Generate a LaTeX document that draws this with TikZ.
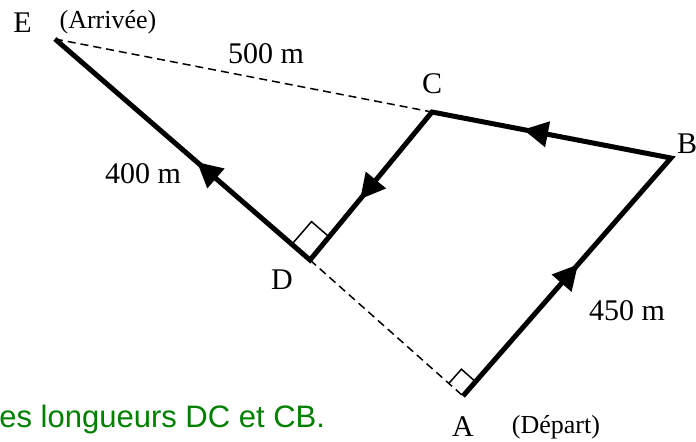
\documentclass[tikz,border=0pt]{standalone}
\usepackage{fontspec}
\setmainfont{Liberation Serif}
\newfontfamily\consignefont{Liberation Sans}
\usetikzlibrary{arrows.meta,decorations.markings,calc}

\definecolor{consigne}{RGB}{0,128,0}
\tikzset{
  walk/.style={line width=2.5pt, line join=miter},
  guide/.style={line width=0.75pt, dash pattern=on 4pt off 2.5pt},
  rightangle/.style={line width=0.75pt},
  midarrow/.style={line width=2.5pt, postaction={decorate, decoration={markings,
      mark=at position #1 with {\arrow{Triangle[length=12.5pt,width=12.5pt]}}}}},
  lbl/.style={font=\fontsize{15}{18}\selectfont, inner sep=0pt, anchor=base},
  small/.style={font=\fontsize{13}{15}\selectfont, inner sep=0pt, anchor=base},
}

\begin{document}
\begin{tikzpicture}[x=0.5pt,y=-0.5pt]
  \useasboundingbox (0,0) rectangle (696,441);

  \coordinate (A) at (463,396);
  \coordinate (B) at (671,158);
  \coordinate (C) at (432,112);
  \coordinate (D) at (310,260);
  \coordinate (E) at (55,39);

  % pointilles
  \draw[guide] (E) -- (C);
  \draw[guide] (D) -- (A);

  % trajet
  \draw[walk] (A) -- (B) -- (C) -- (D) -- (E);
  \path[midarrow=0.553] (A) -- (B);
  \path[midarrow=0.619] (B) -- (C);
  \path[midarrow=0.59] (C) -- (D);
  \path[midarrow=0.443] (D) -- (E);

  % angles droits
  \draw[rightangle] ($(D)!12pt!(E)$) -- ($(D)!12pt!(E)!15pt!-90:(E)$) -- ($(D)!15pt!(C)$);
  \draw[rightangle] ($(A)!9.5pt!(D)$) -- ($(A)!9.5pt!(D)!9.5pt!-90:(D)$) -- ($(A)!9.5pt!(B)$);

  \node[lbl] (lE) at (22.5,32) {E};
  \node[small] (lEnd) at (108,28) {(Arrivée)};
  \node[lbl] (lEC) at (266,63) {500 m};
  \node[lbl] (lC) at (432,93) {C};
  \node[lbl] (lB) at (687,153) {B};
  \node[lbl] (lDE) at (143,183) {400 m};
  \node[lbl] (lD) at (282,289) {D};
  \node[lbl] (lAB) at (627,320) {450 m};
  \node[lbl] (lA) at (463,436) {A};
  \node[small] (lStart) at (556,433) {(Départ)};

  \node[anchor=base west, inner sep=0pt, text=consigne, font=\consignefont\fontsize{15.5}{18}\selectfont] (task) at (-1,427) {es longueurs DC et CB.};
\end{tikzpicture}
\end{document}
